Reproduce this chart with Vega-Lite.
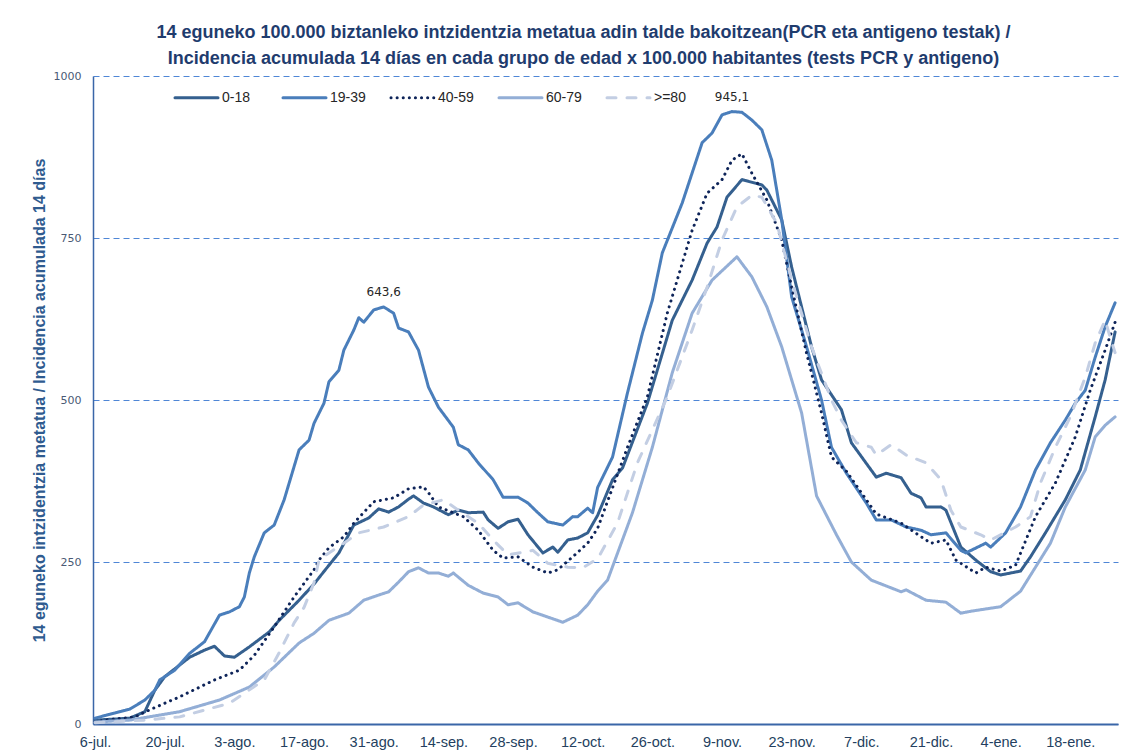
{
"$schema": "https://vega.github.io/schema/vega-lite/v6.json",
"width": 1025, "height": 648,
"autosize": {"type": "none"},
"padding": {"left": 93, "top": 76, "right": 27, "bottom": 30},
"background": "white",
"title": {"text": ["14 eguneko 100.000 biztanleko intzidentzia metatua adin talde bakoitzean(PCR eta antigeno testak) /", "Incidencia acumulada  14 días en cada grupo de edad x 100.000 habitantes (tests PCR y antigeno)"], "font": "Liberation Sans", "fontSize": 18, "fontWeight": "bold", "color": "#1f3c6e", "lineHeight": 26, "anchor": "middle", "dx": -22, "offset": 2},
"config": {"view": {"stroke": null}},
"datasets": {
"series": [
{"fecha":"2020-07-06","grupo":"0-18","valor":6},{"fecha":"2020-07-13","grupo":"0-18","valor":9},{"fecha":"2020-07-16","grupo":"0-18","valor":19},{"fecha":"2020-07-18","grupo":"0-18","valor":52},{"fecha":"2020-07-20","grupo":"0-18","valor":73},{"fecha":"2020-07-25","grupo":"0-18","valor":103},{"fecha":"2020-07-28","grupo":"0-18","valor":114},{"fecha":"2020-07-30","grupo":"0-18","valor":120},{"fecha":"2020-08-01","grupo":"0-18","valor":105},{"fecha":"2020-08-03","grupo":"0-18","valor":103},{"fecha":"2020-08-06","grupo":"0-18","valor":119},{"fecha":"2020-08-10","grupo":"0-18","valor":142},{"fecha":"2020-08-12","grupo":"0-18","valor":160},{"fecha":"2020-08-16","grupo":"0-18","valor":191},{"fecha":"2020-08-19","grupo":"0-18","valor":216},{"fecha":"2020-08-22","grupo":"0-18","valor":245},{"fecha":"2020-08-24","grupo":"0-18","valor":264},{"fecha":"2020-08-27","grupo":"0-18","valor":307},{"fecha":"2020-08-30","grupo":"0-18","valor":318},{"fecha":"2020-09-01","grupo":"0-18","valor":332},{"fecha":"2020-09-03","grupo":"0-18","valor":327},{"fecha":"2020-09-05","grupo":"0-18","valor":335},{"fecha":"2020-09-07","grupo":"0-18","valor":347},{"fecha":"2020-09-08","grupo":"0-18","valor":352},{"fecha":"2020-09-10","grupo":"0-18","valor":341},{"fecha":"2020-09-12","grupo":"0-18","valor":335},{"fecha":"2020-09-15","grupo":"0-18","valor":323},{"fecha":"2020-09-17","grupo":"0-18","valor":330},{"fecha":"2020-09-19","grupo":"0-18","valor":326},{"fecha":"2020-09-22","grupo":"0-18","valor":327},{"fecha":"2020-09-23","grupo":"0-18","valor":315},{"fecha":"2020-09-25","grupo":"0-18","valor":302},{"fecha":"2020-09-27","grupo":"0-18","valor":312},{"fecha":"2020-09-29","grupo":"0-18","valor":316},{"fecha":"2020-10-01","grupo":"0-18","valor":292},{"fecha":"2020-10-04","grupo":"0-18","valor":264},{"fecha":"2020-10-06","grupo":"0-18","valor":273},{"fecha":"2020-10-07","grupo":"0-18","valor":265},{"fecha":"2020-10-09","grupo":"0-18","valor":284},{"fecha":"2020-10-11","grupo":"0-18","valor":287},{"fecha":"2020-10-13","grupo":"0-18","valor":295},{"fecha":"2020-10-15","grupo":"0-18","valor":322},{"fecha":"2020-10-18","grupo":"0-18","valor":377},{"fecha":"2020-10-20","grupo":"0-18","valor":395},{"fecha":"2020-10-25","grupo":"0-18","valor":495},{"fecha":"2020-10-30","grupo":"0-18","valor":623},{"fecha":"2020-11-03","grupo":"0-18","valor":685},{"fecha":"2020-11-06","grupo":"0-18","valor":742},{"fecha":"2020-11-08","grupo":"0-18","valor":767},{"fecha":"2020-11-10","grupo":"0-18","valor":813},{"fecha":"2020-11-13","grupo":"0-18","valor":840},{"fecha":"2020-11-17","grupo":"0-18","valor":832},{"fecha":"2020-11-18","grupo":"0-18","valor":824},{"fecha":"2020-11-21","grupo":"0-18","valor":778},{"fecha":"2020-11-23","grupo":"0-18","valor":705},{"fecha":"2020-11-27","grupo":"0-18","valor":582},{"fecha":"2020-11-29","grupo":"0-18","valor":531},{"fecha":"2020-12-03","grupo":"0-18","valor":485},{"fecha":"2020-12-05","grupo":"0-18","valor":434},{"fecha":"2020-12-10","grupo":"0-18","valor":381},{"fecha":"2020-12-12","grupo":"0-18","valor":387},{"fecha":"2020-12-15","grupo":"0-18","valor":380},{"fecha":"2020-12-17","grupo":"0-18","valor":356},{"fecha":"2020-12-19","grupo":"0-18","valor":349},{"fecha":"2020-12-20","grupo":"0-18","valor":335},{"fecha":"2020-12-23","grupo":"0-18","valor":335},{"fecha":"2020-12-24","grupo":"0-18","valor":330},{"fecha":"2020-12-27","grupo":"0-18","valor":273},{"fecha":"2020-12-30","grupo":"0-18","valor":253},{"fecha":"2021-01-02","grupo":"0-18","valor":235},{"fecha":"2021-01-04","grupo":"0-18","valor":230},{"fecha":"2021-01-08","grupo":"0-18","valor":236},{"fecha":"2021-01-10","grupo":"0-18","valor":258},{"fecha":"2021-01-13","grupo":"0-18","valor":295},{"fecha":"2021-01-17","grupo":"0-18","valor":346},{"fecha":"2021-01-20","grupo":"0-18","valor":392},{"fecha":"2021-01-23","grupo":"0-18","valor":474},{"fecha":"2021-01-25","grupo":"0-18","valor":531},{"fecha":"2021-01-27","grupo":"0-18","valor":605},
{"fecha":"2020-07-06","grupo":"19-39","valor":9},{"fecha":"2020-07-10","grupo":"19-39","valor":17},{"fecha":"2020-07-13","grupo":"19-39","valor":23},{"fecha":"2020-07-16","grupo":"19-39","valor":37},{"fecha":"2020-07-18","grupo":"19-39","valor":52},{"fecha":"2020-07-19","grupo":"19-39","valor":68},{"fecha":"2020-07-22","grupo":"19-39","valor":83},{"fecha":"2020-07-25","grupo":"19-39","valor":109},{"fecha":"2020-07-28","grupo":"19-39","valor":127},{"fecha":"2020-07-31","grupo":"19-39","valor":168},{"fecha":"2020-08-02","grupo":"19-39","valor":173},{"fecha":"2020-08-04","grupo":"19-39","valor":181},{"fecha":"2020-08-05","grupo":"19-39","valor":196},{"fecha":"2020-08-06","grupo":"19-39","valor":233},{"fecha":"2020-08-07","grupo":"19-39","valor":258},{"fecha":"2020-08-09","grupo":"19-39","valor":295},{"fecha":"2020-08-11","grupo":"19-39","valor":307},{"fecha":"2020-08-13","grupo":"19-39","valor":346},{"fecha":"2020-08-16","grupo":"19-39","valor":423},{"fecha":"2020-08-18","grupo":"19-39","valor":438},{"fecha":"2020-08-19","grupo":"19-39","valor":464},{"fecha":"2020-08-21","grupo":"19-39","valor":495},{"fecha":"2020-08-22","grupo":"19-39","valor":528},{"fecha":"2020-08-24","grupo":"19-39","valor":546},{"fecha":"2020-08-25","grupo":"19-39","valor":577},{"fecha":"2020-08-27","grupo":"19-39","valor":608},{"fecha":"2020-08-28","grupo":"19-39","valor":627},{"fecha":"2020-08-29","grupo":"19-39","valor":620},{"fecha":"2020-08-31","grupo":"19-39","valor":639},{"fecha":"2020-09-02","grupo":"19-39","valor":643.6},{"fecha":"2020-09-04","grupo":"19-39","valor":634},{"fecha":"2020-09-05","grupo":"19-39","valor":611},{"fecha":"2020-09-07","grupo":"19-39","valor":605},{"fecha":"2020-09-09","grupo":"19-39","valor":577},{"fecha":"2020-09-11","grupo":"19-39","valor":520},{"fecha":"2020-09-13","grupo":"19-39","valor":489},{"fecha":"2020-09-16","grupo":"19-39","valor":458},{"fecha":"2020-09-17","grupo":"19-39","valor":431},{"fecha":"2020-09-19","grupo":"19-39","valor":423},{"fecha":"2020-09-21","grupo":"19-39","valor":403},{"fecha":"2020-09-24","grupo":"19-39","valor":377},{"fecha":"2020-09-26","grupo":"19-39","valor":350},{"fecha":"2020-09-29","grupo":"19-39","valor":350},{"fecha":"2020-10-01","grupo":"19-39","valor":341},{"fecha":"2020-10-03","grupo":"19-39","valor":326},{"fecha":"2020-10-05","grupo":"19-39","valor":312},{"fecha":"2020-10-08","grupo":"19-39","valor":307},{"fecha":"2020-10-10","grupo":"19-39","valor":320},{"fecha":"2020-10-11","grupo":"19-39","valor":320},{"fecha":"2020-10-13","grupo":"19-39","valor":333},{"fecha":"2020-10-14","grupo":"19-39","valor":326},{"fecha":"2020-10-15","grupo":"19-39","valor":365},{"fecha":"2020-10-18","grupo":"19-39","valor":412},{"fecha":"2020-10-21","grupo":"19-39","valor":511},{"fecha":"2020-10-24","grupo":"19-39","valor":603},{"fecha":"2020-10-26","grupo":"19-39","valor":654},{"fecha":"2020-10-28","grupo":"19-39","valor":727},{"fecha":"2020-11-01","grupo":"19-39","valor":804},{"fecha":"2020-11-05","grupo":"19-39","valor":897},{"fecha":"2020-11-07","grupo":"19-39","valor":912},{"fecha":"2020-11-09","grupo":"19-39","valor":940},{"fecha":"2020-11-11","grupo":"19-39","valor":945.1},{"fecha":"2020-11-13","grupo":"19-39","valor":944},{"fecha":"2020-11-15","grupo":"19-39","valor":932},{"fecha":"2020-11-17","grupo":"19-39","valor":917},{"fecha":"2020-11-19","grupo":"19-39","valor":870},{"fecha":"2020-11-21","grupo":"19-39","valor":778},{"fecha":"2020-11-23","grupo":"19-39","valor":659},{"fecha":"2020-11-26","grupo":"19-39","valor":582},{"fecha":"2020-11-29","grupo":"19-39","valor":500},{"fecha":"2020-12-01","grupo":"19-39","valor":427},{"fecha":"2020-12-04","grupo":"19-39","valor":387},{"fecha":"2020-12-08","grupo":"19-39","valor":341},{"fecha":"2020-12-10","grupo":"19-39","valor":315},{"fecha":"2020-12-13","grupo":"19-39","valor":315},{"fecha":"2020-12-16","grupo":"19-39","valor":304},{"fecha":"2020-12-19","grupo":"19-39","valor":299},{"fecha":"2020-12-21","grupo":"19-39","valor":292},{"fecha":"2020-12-24","grupo":"19-39","valor":295},{"fecha":"2020-12-27","grupo":"19-39","valor":268},{"fecha":"2020-12-28","grupo":"19-39","valor":264},{"fecha":"2021-01-01","grupo":"19-39","valor":279},{"fecha":"2021-01-02","grupo":"19-39","valor":273},{"fecha":"2021-01-05","grupo":"19-39","valor":295},{"fecha":"2021-01-08","grupo":"19-39","valor":335},{"fecha":"2021-01-11","grupo":"19-39","valor":392},{"fecha":"2021-01-14","grupo":"19-39","valor":434},{"fecha":"2021-01-17","grupo":"19-39","valor":469},{"fecha":"2021-01-19","grupo":"19-39","valor":495},{"fecha":"2021-01-21","grupo":"19-39","valor":515},{"fecha":"2021-01-23","grupo":"19-39","valor":566},{"fecha":"2021-01-25","grupo":"19-39","valor":613},{"fecha":"2021-01-27","grupo":"19-39","valor":650},
{"fecha":"2020-07-06","grupo":"40-59","valor":3},{"fecha":"2020-07-08","grupo":"40-59","valor":6},{"fecha":"2020-07-14","grupo":"40-59","valor":11},{"fecha":"2020-07-17","grupo":"40-59","valor":22},{"fecha":"2020-07-23","grupo":"40-59","valor":42},{"fecha":"2020-07-30","grupo":"40-59","valor":68},{"fecha":"2020-08-04","grupo":"40-59","valor":83},{"fecha":"2020-08-07","grupo":"40-59","valor":106},{"fecha":"2020-08-11","grupo":"40-59","valor":150},{"fecha":"2020-08-15","grupo":"40-59","valor":196},{"fecha":"2020-08-19","grupo":"40-59","valor":238},{"fecha":"2020-08-20","grupo":"40-59","valor":253},{"fecha":"2020-08-22","grupo":"40-59","valor":272},{"fecha":"2020-08-25","grupo":"40-59","valor":289},{"fecha":"2020-08-27","grupo":"40-59","valor":310},{"fecha":"2020-08-31","grupo":"40-59","valor":343},{"fecha":"2020-09-04","grupo":"40-59","valor":349},{"fecha":"2020-09-07","grupo":"40-59","valor":363},{"fecha":"2020-09-10","grupo":"40-59","valor":366},{"fecha":"2020-09-11","grupo":"40-59","valor":357},{"fecha":"2020-09-13","grupo":"40-59","valor":335},{"fecha":"2020-09-18","grupo":"40-59","valor":320},{"fecha":"2020-09-21","grupo":"40-59","valor":299},{"fecha":"2020-09-24","grupo":"40-59","valor":268},{"fecha":"2020-09-26","grupo":"40-59","valor":256},{"fecha":"2020-09-29","grupo":"40-59","valor":258},{"fecha":"2020-10-02","grupo":"40-59","valor":242},{"fecha":"2020-10-05","grupo":"40-59","valor":233},{"fecha":"2020-10-07","grupo":"40-59","valor":238},{"fecha":"2020-10-10","grupo":"40-59","valor":258},{"fecha":"2020-10-13","grupo":"40-59","valor":279},{"fecha":"2020-10-15","grupo":"40-59","valor":302},{"fecha":"2020-10-21","grupo":"40-59","valor":427},{"fecha":"2020-10-25","grupo":"40-59","valor":505},{"fecha":"2020-10-29","grupo":"40-59","valor":634},{"fecha":"2020-11-03","grupo":"40-59","valor":762},{"fecha":"2020-11-06","grupo":"40-59","valor":819},{"fecha":"2020-11-09","grupo":"40-59","valor":840},{"fecha":"2020-11-11","grupo":"40-59","valor":870},{"fecha":"2020-11-13","grupo":"40-59","valor":880},{"fecha":"2020-11-15","grupo":"40-59","valor":850},{"fecha":"2020-11-18","grupo":"40-59","valor":809},{"fecha":"2020-11-21","grupo":"40-59","valor":747},{"fecha":"2020-11-23","grupo":"40-59","valor":674},{"fecha":"2020-11-26","grupo":"40-59","valor":572},{"fecha":"2020-11-29","grupo":"40-59","valor":480},{"fecha":"2020-12-01","grupo":"40-59","valor":412},{"fecha":"2020-12-04","grupo":"40-59","valor":390},{"fecha":"2020-12-08","grupo":"40-59","valor":346},{"fecha":"2020-12-10","grupo":"40-59","valor":324},{"fecha":"2020-12-15","grupo":"40-59","valor":310},{"fecha":"2020-12-19","grupo":"40-59","valor":289},{"fecha":"2020-12-21","grupo":"40-59","valor":279},{"fecha":"2020-12-24","grupo":"40-59","valor":284},{"fecha":"2020-12-26","grupo":"40-59","valor":253},{"fecha":"2020-12-30","grupo":"40-59","valor":233},{"fecha":"2021-01-01","grupo":"40-59","valor":242},{"fecha":"2021-01-04","grupo":"40-59","valor":236},{"fecha":"2021-01-07","grupo":"40-59","valor":245},{"fecha":"2021-01-11","grupo":"40-59","valor":320},{"fecha":"2021-01-15","grupo":"40-59","valor":372},{"fecha":"2021-01-19","grupo":"40-59","valor":443},{"fecha":"2021-01-22","grupo":"40-59","valor":515},{"fecha":"2021-01-25","grupo":"40-59","valor":577},{"fecha":"2021-01-27","grupo":"40-59","valor":620},
{"fecha":"2020-07-06","grupo":"60-79","valor":3},{"fecha":"2020-07-13","grupo":"60-79","valor":6},{"fecha":"2020-07-23","grupo":"60-79","valor":19},{"fecha":"2020-07-31","grupo":"60-79","valor":37},{"fecha":"2020-08-06","grupo":"60-79","valor":57},{"fecha":"2020-08-11","grupo":"60-79","valor":88},{"fecha":"2020-08-16","grupo":"60-79","valor":125},{"fecha":"2020-08-19","grupo":"60-79","valor":140},{"fecha":"2020-08-22","grupo":"60-79","valor":160},{"fecha":"2020-08-26","grupo":"60-79","valor":171},{"fecha":"2020-08-29","grupo":"60-79","valor":191},{"fecha":"2020-09-01","grupo":"60-79","valor":199},{"fecha":"2020-09-03","grupo":"60-79","valor":204},{"fecha":"2020-09-05","grupo":"60-79","valor":219},{"fecha":"2020-09-07","grupo":"60-79","valor":235},{"fecha":"2020-09-09","grupo":"60-79","valor":241},{"fecha":"2020-09-11","grupo":"60-79","valor":233},{"fecha":"2020-09-13","grupo":"60-79","valor":233},{"fecha":"2020-09-15","grupo":"60-79","valor":228},{"fecha":"2020-09-16","grupo":"60-79","valor":233},{"fecha":"2020-09-19","grupo":"60-79","valor":214},{"fecha":"2020-09-22","grupo":"60-79","valor":202},{"fecha":"2020-09-25","grupo":"60-79","valor":196},{"fecha":"2020-09-27","grupo":"60-79","valor":184},{"fecha":"2020-09-29","grupo":"60-79","valor":187},{"fecha":"2020-10-02","grupo":"60-79","valor":173},{"fecha":"2020-10-05","grupo":"60-79","valor":165},{"fecha":"2020-10-08","grupo":"60-79","valor":157},{"fecha":"2020-10-11","grupo":"60-79","valor":168},{"fecha":"2020-10-13","grupo":"60-79","valor":184},{"fecha":"2020-10-15","grupo":"60-79","valor":205},{"fecha":"2020-10-17","grupo":"60-79","valor":222},{"fecha":"2020-10-22","grupo":"60-79","valor":326},{"fecha":"2020-10-26","grupo":"60-79","valor":427},{"fecha":"2020-10-30","grupo":"60-79","valor":542},{"fecha":"2020-11-03","grupo":"60-79","valor":634},{"fecha":"2020-11-07","grupo":"60-79","valor":685},{"fecha":"2020-11-12","grupo":"60-79","valor":721},{"fecha":"2020-11-15","grupo":"60-79","valor":690},{"fecha":"2020-11-18","grupo":"60-79","valor":644},{"fecha":"2020-11-21","grupo":"60-79","valor":582},{"fecha":"2020-11-25","grupo":"60-79","valor":480},{"fecha":"2020-11-28","grupo":"60-79","valor":352},{"fecha":"2020-12-02","grupo":"60-79","valor":292},{"fecha":"2020-12-05","grupo":"60-79","valor":250},{"fecha":"2020-12-09","grupo":"60-79","valor":222},{"fecha":"2020-12-15","grupo":"60-79","valor":204},{"fecha":"2020-12-16","grupo":"60-79","valor":207},{"fecha":"2020-12-20","grupo":"60-79","valor":191},{"fecha":"2020-12-24","grupo":"60-79","valor":188},{"fecha":"2020-12-27","grupo":"60-79","valor":171},{"fecha":"2020-12-29","grupo":"60-79","valor":174},{"fecha":"2021-01-04","grupo":"60-79","valor":181},{"fecha":"2021-01-08","grupo":"60-79","valor":205},{"fecha":"2021-01-11","grupo":"60-79","valor":242},{"fecha":"2021-01-14","grupo":"60-79","valor":279},{"fecha":"2021-01-17","grupo":"60-79","valor":335},{"fecha":"2021-01-21","grupo":"60-79","valor":392},{"fecha":"2021-01-23","grupo":"60-79","valor":443},{"fecha":"2021-01-25","grupo":"60-79","valor":461},{"fecha":"2021-01-27","grupo":"60-79","valor":474},
{"fecha":"2020-07-06","grupo":">=80","valor":2},{"fecha":"2020-07-16","grupo":">=80","valor":6},{"fecha":"2020-07-23","grupo":">=80","valor":11},{"fecha":"2020-08-02","grupo":">=80","valor":32},{"fecha":"2020-08-09","grupo":">=80","valor":68},{"fecha":"2020-08-12","grupo":">=80","valor":110},{"fecha":"2020-08-15","grupo":">=80","valor":156},{"fecha":"2020-08-17","grupo":">=80","valor":180},{"fecha":"2020-08-19","grupo":">=80","valor":218},{"fecha":"2020-08-20","grupo":">=80","valor":253},{"fecha":"2020-08-22","grupo":">=80","valor":264},{"fecha":"2020-08-25","grupo":">=80","valor":279},{"fecha":"2020-08-28","grupo":">=80","valor":295},{"fecha":"2020-09-02","grupo":">=80","valor":304},{"fecha":"2020-09-07","grupo":">=80","valor":320},{"fecha":"2020-09-10","grupo":">=80","valor":338},{"fecha":"2020-09-14","grupo":">=80","valor":346},{"fecha":"2020-09-17","grupo":">=80","valor":330},{"fecha":"2020-09-21","grupo":">=80","valor":310},{"fecha":"2020-09-24","grupo":">=80","valor":284},{"fecha":"2020-09-27","grupo":">=80","valor":261},{"fecha":"2020-10-02","grupo":">=80","valor":268},{"fecha":"2020-10-05","grupo":">=80","valor":248},{"fecha":"2020-10-09","grupo":">=80","valor":242},{"fecha":"2020-10-12","grupo":">=80","valor":241},{"fecha":"2020-10-15","grupo":">=80","valor":255},{"fecha":"2020-10-19","grupo":">=80","valor":310},{"fecha":"2020-10-23","grupo":">=80","valor":403},{"fecha":"2020-10-29","grupo":">=80","valor":505},{"fecha":"2020-11-03","grupo":">=80","valor":608},{"fecha":"2020-11-06","grupo":">=80","valor":674},{"fecha":"2020-11-09","grupo":">=80","valor":747},{"fecha":"2020-11-12","grupo":">=80","valor":798},{"fecha":"2020-11-15","grupo":">=80","valor":816},{"fecha":"2020-11-17","grupo":">=80","valor":813},{"fecha":"2020-11-20","grupo":">=80","valor":773},{"fecha":"2020-11-23","grupo":">=80","valor":685},{"fecha":"2020-11-27","grupo":">=80","valor":582},{"fecha":"2020-12-01","grupo":">=80","valor":500},{"fecha":"2020-12-03","grupo":">=80","valor":469},{"fecha":"2020-12-06","grupo":">=80","valor":434},{"fecha":"2020-12-09","grupo":">=80","valor":427},{"fecha":"2020-12-10","grupo":">=80","valor":415},{"fecha":"2020-12-13","grupo":">=80","valor":431},{"fecha":"2020-12-16","grupo":">=80","valor":415},{"fecha":"2020-12-20","grupo":">=80","valor":403},{"fecha":"2020-12-23","grupo":">=80","valor":377},{"fecha":"2020-12-25","grupo":">=80","valor":330},{"fecha":"2020-12-27","grupo":">=80","valor":304},{"fecha":"2020-12-31","grupo":">=80","valor":292},{"fecha":"2021-01-02","grupo":">=80","valor":284},{"fecha":"2021-01-05","grupo":">=80","valor":296},{"fecha":"2021-01-07","grupo":">=80","valor":304},{"fecha":"2021-01-10","grupo":">=80","valor":320},{"fecha":"2021-01-12","grupo":">=80","valor":372},{"fecha":"2021-01-15","grupo":">=80","valor":427},{"fecha":"2021-01-18","grupo":">=80","valor":474},{"fecha":"2021-01-21","grupo":">=80","valor":535},{"fecha":"2021-01-23","grupo":">=80","valor":588},{"fecha":"2021-01-25","grupo":">=80","valor":623},{"fecha":"2021-01-26","grupo":">=80","valor":597},{"fecha":"2021-01-27","grupo":">=80","valor":573}
],
"etiquetas": [
{"fecha":"2020-09-02","valor":643.6,"etiqueta":"643,6"},
{"fecha":"2020-11-11","valor":945.1,"etiqueta":"945,1"}
]
},
"layer": [
{
"data": {"name": "series"},
"mark": {"type": "line", "strokeWidth": 3, "strokeCap": "round", "strokeJoin": "round"},
"encoding": {
"x": {"field": "fecha", "type": "temporal",
 "scale": {"type": "utc", "domain": [{"year": 2020, "month": 7, "date": 5, "hours": 14, "utc": true}, {"year": 2021, "month": 1, "date": 27, "hours": 14, "utc": true}]},
 "axis": {"title": null, "grid": false, "ticks": false, "domainColor": "#3a66a8", "domainWidth": 2,
  "values": [{"year":2020,"month":7,"date":6,"utc":true},{"year":2020,"month":7,"date":20,"utc":true},{"year":2020,"month":8,"date":3,"utc":true},{"year":2020,"month":8,"date":17,"utc":true},{"year":2020,"month":8,"date":31,"utc":true},{"year":2020,"month":9,"date":14,"utc":true},{"year":2020,"month":9,"date":28,"utc":true},{"year":2020,"month":10,"date":12,"utc":true},{"year":2020,"month":10,"date":26,"utc":true},{"year":2020,"month":11,"date":9,"utc":true},{"year":2020,"month":11,"date":23,"utc":true},{"year":2020,"month":12,"date":7,"utc":true},{"year":2020,"month":12,"date":21,"utc":true},{"year":2021,"month":1,"date":4,"utc":true},{"year":2021,"month":1,"date":18,"utc":true}],
  "labelExpr": "utcdate(datum.value) + '-' + ['ene','feb','mar','abr','may','jun','jul','ago','sep','oct','nov','dic'][utcmonth(datum.value)] + '.'",
  "labelFont": "Liberation Sans", "labelFontSize": 14.5, "labelColor": "#243f60", "labelPadding": 11, "labelOverlap": false}},
"y": {"field": "valor", "type": "quantitative", "scale": {"domain": [0, 1000]},
 "axis": {"values": [0, 250, 500, 750, 1000], "format": "d", "title": "14 eguneko intzidentzia metatua / Incidencia acumulada 14 días",
  "titleFont": "Liberation Sans", "titleFontSize": 16, "titleFontWeight": "bold", "titleColor": "#2f5b8f", "titlePadding": 6,
  "labelFont": "DejaVu Sans", "labelFontSize": 11, "labelColor": "#4a5a75", "labelPadding": 12, "ticks": false,
  "domainColor": "#3a66a8", "domainWidth": 1.5, "grid": true, "gridColor": "#4f86d6", "gridDash": [6, 4], "gridWidth": 1}},
"color": {"field": "grupo", "type": "nominal",
 "scale": {"domain": ["0-18", "19-39", "40-59", "60-79", ">=80"], "range": ["#35608f", "#4a7ebb", "#0e2459", "#93aed6", "#c3cee3"]},
 "legend": {"title": null, "orient": "none", "legendX": 80, "legendY": -2, "direction": "horizontal", "columns": 5, "gridAlign": "all", "symbolType": "stroke", "symbolSize": 1850, "symbolStrokeWidth": 3, "labelFont": "Liberation Sans", "labelFontSize": 14, "labelColor": "#262626", "labelOffset": 2, "columnPadding": 18, "encode": {"symbols": {"update": {"strokeCap": {"value": "round"}}}}}},
"strokeDash": {"field": "grupo", "type": "nominal",
 "scale": {"domain": ["0-18", "19-39", "40-59", "60-79", ">=80"], "range": [[1, 0], [1, 0], [0.1, 6], [1, 0], [9, 11]]},
 "legend": {"title": null, "orient": "none", "legendX": 80, "legendY": -2, "direction": "horizontal", "columns": 5, "gridAlign": "all", "symbolType": "stroke", "symbolSize": 1850, "symbolStrokeWidth": 3, "labelFont": "Liberation Sans", "labelFontSize": 14, "labelColor": "#262626", "labelOffset": 2, "columnPadding": 18, "encode": {"symbols": {"update": {"strokeCap": {"value": "round"}}}}}}
}
},
{
"data": {"name": "etiquetas"},
"mark": {"type": "text", "dy": -15, "font": "DejaVu Sans", "fontSize": 12, "color": "#262626"},
"encoding": {
"x": {"field": "fecha", "type": "temporal"},
"y": {"field": "valor", "type": "quantitative"},
"text": {"field": "etiqueta"}
}
}
]
}
